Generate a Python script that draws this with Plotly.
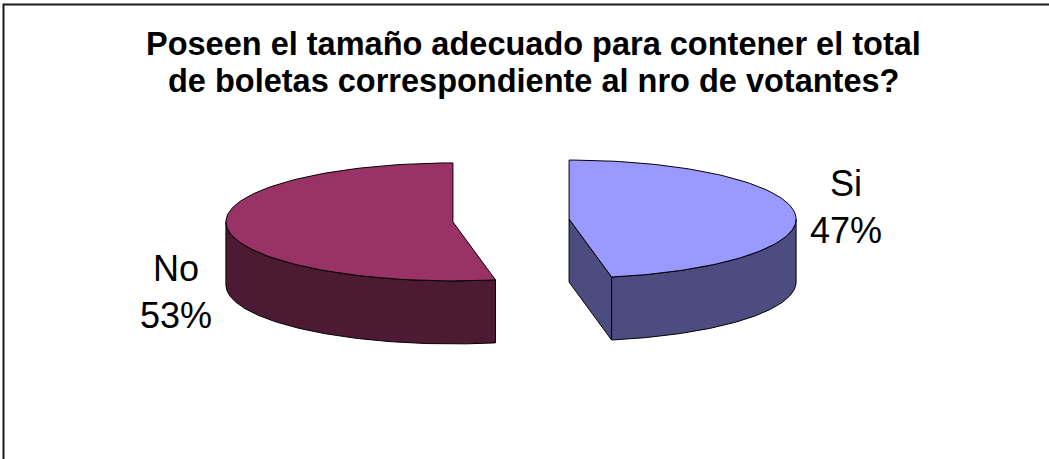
import numpy as np
import plotly.graph_objects as go

# ---- data ----
labels = ["Si", "No"]
values = [47, 53]
top_colors = ["#9999FF", "#993366"]
side_colors = ["#4C4C80", "#4D1A33"]
title_lines = ["Poseen el tamaño adecuado para contener el total",
               "de boletas correspondiente al nro de votantes?"]

# ---- geometry (pixel space of the 1049x459 canvas) ----
W, H = 1049, 459
CX, CY = 511, 220.5          # pie centre
RX, RY = 227, 59             # ellipse radii of the tilted pie
DEPTH = 63                   # thickness of the 3D pie
EXPLODE = 0.257              # explosion fraction
LABEL_DX = 335
LABEL_DY = {"Si": -14, "No": 71}
TITLE_Y = [44, 81]
LINE = dict(color="black", width=1)


def pt(cx, cy, phi_deg, dz=0.0):
    p = np.radians(phi_deg)
    return cx + RX * np.sin(p), cy - RY * np.cos(p) + dz


def arc(cx, cy, a, b, dz=0.0, n=120):
    ph = np.linspace(a, b, n)
    x, y = pt(cx, cy, ph, dz)
    return list(x), list(y)


fig = go.Figure()
total = sum(values)
start = 0.0
annotations = []
for lab, v, ctop, cside in zip(labels, values, top_colors, side_colors):
    a = start
    b = start + 360.0 * v / total
    start = b
    mid = np.radians((a + b) / 2)
    scx = CX + EXPLODE * RX * np.sin(mid)
    scy = CY - EXPLODE * RY * np.cos(mid)

    # cut faces
    for ang, sign in ((b, 1), (a, -1)):
        if sign * np.sin(np.radians(ang)) > 1e-6:
            ex, ey = pt(scx, scy, ang)
            fig.add_trace(go.Scatter(
                x=[scx, ex, ex, scx, scx], y=[scy, ey, ey + DEPTH, scy + DEPTH, scy],
                mode="lines", fill="toself", fillcolor=cside, line=LINE,
                hoverinfo="skip", showlegend=False))
    # outer wall (front half only)
    lo, hi = max(a, 90.0), min(b, 270.0)
    if lo < hi:
        tx, ty = arc(scx, scy, lo, hi)
        bx, by = arc(scx, scy, hi, lo, DEPTH)
        fig.add_trace(go.Scatter(
            x=tx + bx + [tx[0]], y=ty + by + [ty[0]],
            mode="lines", fill="toself", fillcolor=cside, line=LINE,
            hoverinfo="skip", showlegend=False))
    # top surface
    tx, ty = arc(scx, scy, a, b)
    fig.add_trace(go.Scatter(
        x=[scx] + tx + [scx], y=[scy] + ty + [scy],
        mode="lines", fill="toself", fillcolor=ctop, line=LINE,
        hoverinfo="skip", showlegend=False))

    # label
    side = 1 if np.sin(mid) > 0 else -1
    annotations.append(dict(
        x=CX + side * LABEL_DX, y=CY + LABEL_DY[lab], xref="x", yref="y",
        text=f"{lab}<br>{round(100 * v / total)}%", showarrow=False,
        xanchor="center", yanchor="middle", align="center",
        font=dict(family="Liberation Sans, Arial", size=36, color="black")))

for line_text, ty in zip(title_lines, TITLE_Y):
    annotations.append(dict(
        x=533, y=ty, xref="x", yref="y", text=f"<b>{line_text}</b>", showarrow=False,
        xanchor="center", yanchor="middle", align="center",
        font=dict(family="Liberation Sans, Arial", size=32.5, color="black")))

fig.update_layout(
    width=W, height=H, margin=dict(l=0, r=0, t=0, b=0),
    paper_bgcolor="white", plot_bgcolor="white",
    xaxis=dict(range=[0, W], visible=False, fixedrange=True),
    yaxis=dict(range=[H, 0], visible=False, fixedrange=True),
    annotations=annotations,
    shapes=[dict(type="rect", xref="x", yref="y", x0=3.5, y0=4.5, x1=W + 40, y1=H + 40,
                 line=dict(color="#1a1a1a", width=2), layer="above")],
    showlegend=False,
)

fig.write_html("out.html",
               config={"displayModeBar": False},
               post_script="document.body.style.margin='0px';"
                           "document.body.style.overflow='hidden';")
